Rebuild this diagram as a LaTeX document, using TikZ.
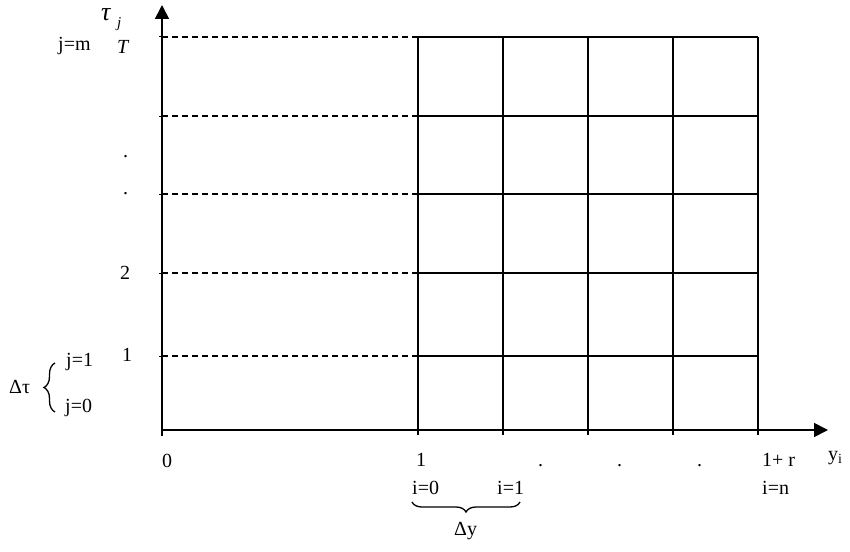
\documentclass[tikz,border=0pt]{standalone}
\usepackage{fontspec}
\setmainfont{Liberation Serif}
\usetikzlibrary{arrows.meta,decorations.pathreplacing}
\begin{document}
\begin{tikzpicture}[x=1pt,y=-1pt,
  axis/.style={line width=1.6pt},
  gridline/.style={line width=1.2pt},
  dashline/.style={line width=1.1pt,dash pattern=on 6pt off 4pt},
  lbl/.style={inner sep=0pt,anchor=base west,font=\fontsize{20}{23}\selectfont},
  bracestyle/.style={line width=1.3pt,decorate}]
\useasboundingbox (0,0) rectangle (850,551);
% coordinates
\coordinate (O) at (162,430);
\coordinate (Ybot) at (162,436);
\coordinate (Ytop) at (162,5);
\coordinate (Xend) at (828,430);
\foreach \i/\x in {0/418,1/503,2/588,3/673,4/758}{
  \coordinate (b\i) at (\x,430);
  \coordinate (bt\i) at (\x,435);
  \coordinate (t\i) at (\x,37);
}
\foreach \j/\y in {1/356,2/273,3/194,4/116,5/37}{
  \coordinate (L\j) at (162,\y);
  \coordinate (R\j) at (758,\y);
  \coordinate (M\j) at (418,\y);
  \coordinate (Lt\j) at (159,\y);
}
% dashed lines
\foreach \j in {1,...,5}{
  \draw[dashline] (L\j) -- (M\j);
  \draw[line width=1pt] (Lt\j) -- (L\j);
  \draw[gridline] (M\j) -- (R\j);
}
% vertical grid lines
\foreach \i in {0,...,4}{
  \draw[gridline] (bt\i) -- (t\i);
}
% axes
\draw[axis,-{Triangle[length=14pt,width=14pt]}] (Ybot) -- (Ytop);
\draw[axis,-{Triangle[length=14pt,width=14pt]}] (O) -- (Xend);
% vertical axis labels
\node[inner sep=0pt,anchor=base west,font=\fontsize{26}{28}\selectfont\itshape] (tau) at (101,21) {τ};
\node[inner sep=0pt,anchor=base west,font=\fontsize{15}{17}\selectfont\itshape] (tauj) at (117,28) {j};
\node[lbl] (jm) at (58,50) {j=m};
\node[lbl,font=\fontsize{20}{23}\selectfont\itshape] (T) at (117,53) {T};
\node[lbl] (vd1) at (123,157) {.};
\node[lbl] (vd2) at (123,194) {.};
\node[lbl] (two) at (120,279) {2};
\node[lbl] (one) at (122,361) {1};
\node[lbl] (j1) at (66,366) {j=1};
\node[lbl] (j0) at (65,412) {j=0};
\node[lbl] (dtau) at (9,393) {Δτ};
\coordinate (lbA) at (55,412);
\coordinate (lbB) at (55,363);
\draw[bracestyle,decoration={brace,amplitude=11pt}] (lbA) -- (lbB);
% horizontal axis labels
\node[lbl] (zero) at (162,467) {0};
\node[lbl] (yone) at (416,466) {1};
\node[lbl] (hd1) at (538,466) {.};
\node[lbl] (hd2) at (617,466) {.};
\node[lbl] (hd3) at (697,466) {.};
\node[lbl] (onepr) at (762,466) {1+ r};
\node[lbl] (yi) at (828,460) {y\raisebox{-3pt}{\fontsize{14}{16}\selectfont i}};
\node[lbl] (i0) at (412,494) {i=0};
\node[lbl] (i1) at (497,494) {i=1};
\node[lbl] (in) at (762,494) {i=n};
\coordinate (bbA) at (520,502);
\coordinate (bbB) at (412,502);
\draw[bracestyle,decoration={brace,amplitude=10pt}] (bbA) -- (bbB);
\node[lbl] (dy) at (454,535) {Δy};
\end{tikzpicture}
\end{document}
